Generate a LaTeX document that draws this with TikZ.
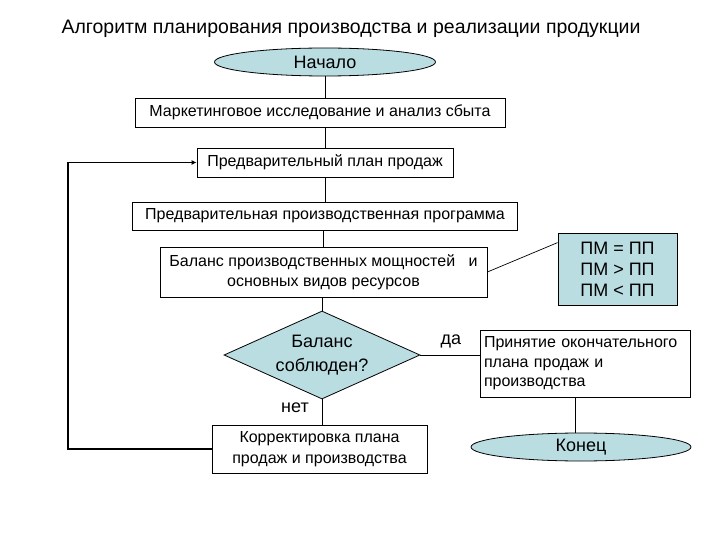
\documentclass[tikz,border=0pt]{standalone}
\usepackage{fontspec}
\setmainfont{Liberation Sans}
\usetikzlibrary{shapes.geometric,arrows.meta}
\definecolor{lightteal}{RGB}{186,221,226}

\begin{document}
\begin{tikzpicture}[x=1pt, y=-1pt,
    rect/.style={draw, rectangle, line width=0.8pt, inner sep=0pt, align=center, font=\fontsize{16}{20.5}\selectfont},
    oval/.style={draw, ellipse, line width=0.8pt, fill=lightteal, inner sep=0pt, minimum width=221pt, minimum height=28pt, font=\fontsize{18}{21}\selectfont},
    decision/.style={draw, diamond, line width=0.8pt, fill=lightteal, inner sep=0pt, aspect=2.2, minimum width=196pt, minimum height=88pt, align=center, font=\fontsize{18}{24}\selectfont},
    link/.style={line width=0.7pt},
    feedback/.style={line width=1.3pt, -{Latex[length=5pt,width=5pt]}}]
    \useasboundingbox (0,0) rectangle (720,540);

    % Title
    \node[font=\fontsize{19.5}{23}\selectfont] (title) at (351,29) {Алгоритм планирования производства и реализации продукции};

    % Main column
    \node[oval] (start) at (325,62) {Начало};
    \node[rect, minimum width=370pt, minimum height=29pt] (market) at (320,112.5) {Маркетинговое исследование и анализ сбыта};
    \node[rect, minimum width=256pt, minimum height=29pt] (plan) at (325,162.5) {Предварительный план продаж};
    \node[rect, minimum width=385pt, minimum height=28pt] (program) at (325,216) {Предварительная производственная программа};
    \node[rect, minimum width=327pt, minimum height=50pt] (balance) at (323.5,272) {Баланс производственных мощностей \ \ и\\основных видов ресурсов};
    \node[decision] (check) at (322,355) {Баланс\\соблюден?};
    \node[rect, minimum width=215pt, minimum height=48pt] (correct) at (319.5,449) {Корректировка плана\\продаж и производства};

    % Right column
    \node[rect, fill=lightteal, minimum width=119pt, minimum height=72pt, font=\fontsize{18}{21}\selectfont] (pm) at (617.5,269) {ПМ = ПП\\ПМ > ПП\\ПМ < ПП};
    \node[rect, minimum width=210pt, minimum height=67pt, text width=202pt, align=left, font=\fontsize{16}{19.5}\selectfont] (final) at (585,363.5) {Принятие окончательного\\плана продаж и\\производства};
    \node[oval, minimum width=220pt] (finish) at (581,447) {Конец};

    % Labels
    \node[font=\fontsize{18}{21}\selectfont] (yes) at (451,341) {да};
    \node[font=\fontsize{18}{21}\selectfont] (no) at (295,408) {нет};

    % Connectors
    \draw[link] (start.south) -- (start.south |- market.north);
    \draw[link] (market.south -| plan.north) -- (plan.north);
    \draw[link] (plan.south) -- (plan.south |- program.north);
    \draw[link] (program.south -| balance.north) -- (balance.north);
    \draw[link] (balance.south -| check.north) -- (check.north);
    \draw[link] (check.south) -- (check.south |- correct.north);
    \draw[link] (balance.east) -- ([yshift=-10pt]pm.north west);
    \draw[link] (check.east) -- (check.east -| final.west);
    \draw[link] ([xshift=-10pt]final.south) -- ([xshift=-10pt]final.south |- finish.north);

    % Loop back
    \coordinate (loop) at (68,449);
    \draw[feedback] (correct.west) -- (loop) |- (plan.west);
\end{tikzpicture}
\end{document}
